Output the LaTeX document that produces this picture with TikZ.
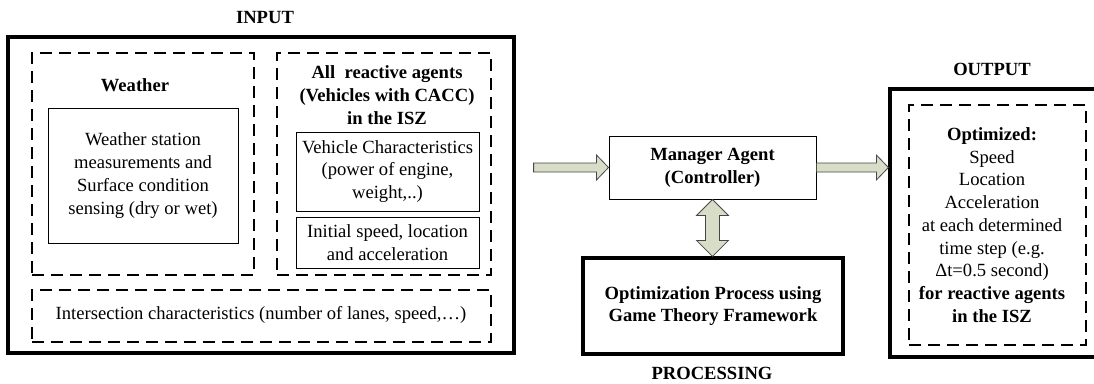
\documentclass[tikz,border=0pt]{standalone}
\usepackage{fontspec}
\setmainfont{Liberation Serif}
\usetikzlibrary{calc}
\definecolor{arrowfill}{RGB}{216,221,199}
\definecolor{arrowline}{RGB}{70,70,70}
\begin{document}
\begin{tikzpicture}[x=1pt,y=-1pt,
  txt/.style={font=\fontsize{18.6}{22.7}\selectfont, align=center, inner sep=0},
  bold/.style={txt, font=\fontsize{18.6}{22.7}\selectfont\bfseries},
  thickbox/.style={draw, line width=3.2pt, inner sep=0, txt},
  thinbox/.style={draw, line width=1pt, inner sep=0, txt},
  dashbox/.style={draw, line width=1.8pt, dash pattern=on 12pt off 7pt, inner sep=0},
  blockarrow/.style={fill=arrowfill, draw=arrowline, line width=0.8pt, line join=miter}]
\useasboundingbox (0,0) rectangle (1094,383);

% INPUT
\node[bold] (inlabel) at (265,17) {INPUT};
\node[thickbox, minimum width=506, minimum height=316] (input) at (261,195) {};
\node[dashbox, minimum width=222, minimum height=222] (weather) at (143,164) {};
\node[bold] (wtitle) at (135,85) {Weather};
\node[thinbox, minimum width=190, minimum height=135] (wbox) at (143,175.5)
  {Weather station\\measurements and\\Surface condition\\sensing (dry or wet)};
\node[dashbox, minimum width=214, minimum height=222] (agents) at (384,164) {};
\node[bold] (atitle) at (387,95) {All\ \ reactive agents\\(Vehicles with CACC)\\in the ISZ};
\node[thinbox, minimum width=183, minimum height=79] (vehicle) at (387.5,171.5)
  {Vehicle Characteristics\\(power of engine,\\weight,..)};
\node[thinbox, minimum width=183, minimum height=51] (initial) at (387.5,242.5)
  {Initial speed, location\\and acceleration};
\node[dashbox, minimum width=459, minimum height=52] (inter) at (261.5,316) {};
\node[txt] (intertext) at (261,315) {Intersection characteristics (number of lanes, speed,…)};

% PROCESSING
\node[thinbox, bold, minimum width=207, minimum height=63] (mgr) at (712.5,167.5)
  {Manager Agent\\(Controller)};
\node[thickbox, bold, minimum width=260, minimum height=96] (opt) at (713,306)
  {Optimization Process using\\Game Theory Framework};
\node[bold] (proclabel) at (712,373) {PROCESSING};

% OUTPUT
\node[bold] (outlabel) at (992,69) {OUTPUT};
\node[thickbox, minimum width=212, minimum height=268] (output) at (996,223) {};
\node[dashbox, minimum width=177, minimum height=240] (outdash) at (997.5,225) {};
\node[txt] (outtext) at (992,225) {\textbf{Optimized:}\\Speed\\Location\\Acceleration\\at each determined\\time step (e.g.\\Δt=0.5 second)\\\textbf{for reactive agents}\\\textbf{in the ISZ}};

% arrows
\coordinate (inStart) at ($(input.east |- mgr.west)+(18,0)$);
\coordinate (inTip) at (mgr.west);
\draw[blockarrow] ($(inStart)+(0,-4.5)$) -- ($(inTip)+(-12,-4.5)$) -- ($(inTip)+(-12,-12.5)$)
  -- (inTip) -- ($(inTip)+(-12,12.5)$) -- ($(inTip)+(-12,4.5)$) -- ($(inStart)+(0,4.5)$) -- cycle;

\coordinate (outStart) at (mgr.east);
\coordinate (outTip) at (output.west |- mgr.east);
\draw[blockarrow] ($(outStart)+(0,-4.5)$) -- ($(outTip)+(-12,-4.5)$) -- ($(outTip)+(-12,-12.5)$)
  -- (outTip) -- ($(outTip)+(-12,12.5)$) -- ($(outTip)+(-12,4.5)$) -- ($(outStart)+(0,4.5)$) -- cycle;

\coordinate (dTop) at (mgr.south);
\coordinate (dBot) at (mgr.south |- opt.north);
\draw[blockarrow] (dTop) -- ($(dTop)+(16,16)$) -- ($(dTop)+(7,16)$) -- ($(dBot)+(7,-16)$)
  -- ($(dBot)+(16,-16)$) -- (dBot) -- ($(dBot)+(-16,-16)$) -- ($(dBot)+(-7,-16)$)
  -- ($(dTop)+(-7,16)$) -- ($(dTop)+(-16,16)$) -- cycle;
\end{tikzpicture}
\end{document}
